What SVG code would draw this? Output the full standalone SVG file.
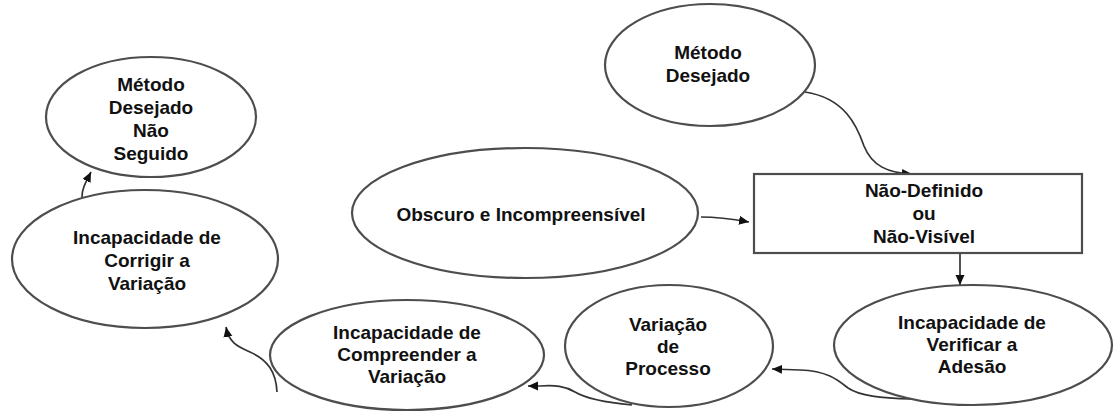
<svg xmlns="http://www.w3.org/2000/svg" width="1114" height="412" viewBox="0 0 1114 412">
<defs>
<style>
.node{fill:#fff;stroke:#4d4d4d;stroke-width:2.2}
.t{font-family:"Liberation Sans",Arial,sans-serif;font-weight:bold;font-size:19px;fill:#111;text-anchor:middle}
.c{fill:none;stroke:#333;stroke-width:1.7}
</style>
<marker id="ah" markerUnits="userSpaceOnUse" markerWidth="12" markerHeight="10" refX="10" refY="4.5" orient="auto">
<path d="M0,0 L10,4.5 L0,9 Z" fill="#111"/>
</marker>
</defs>
<rect width="1114" height="412" fill="#fff"/>
<g id="connectors">
<path class="c" d="M805,92 C845,98 857,126 864,146 C872,166 888,173 912,174" marker-end="url(#ah)"/>
<path class="c" d="M701,217 C720,217 732,219 749,222" marker-end="url(#ah)"/>
<path class="c" d="M960,253 L960,285" marker-end="url(#ah)"/>
<path class="c" d="M912,399 C880,398 860,396 848,388 C838,380 828,371 800,370 L772,369" marker-end="url(#ah)"/>
<path class="c" d="M632,405 C600,402 585,398 575,392 C565,386 555,385 540,386 L528,386" marker-end="url(#ah)"/>
<path class="c" d="M277,392 C276,372 268,360 250,352 C236,346 229,342 226,327" marker-end="url(#ah)"/>
<path class="c" d="M82,197 C82,188 86,182 91,172" marker-end="url(#ah)"/>
</g>
<g id="n-metodo-nao-seguido">
<ellipse class="node" cx="151" cy="117" rx="105" ry="60"/>
<text class="t" x="151" y="91">Método</text>
<text class="t" x="151" y="114">Desejado</text>
<text class="t" x="151" y="137">Não</text>
<text class="t" x="151" y="160">Seguido</text>
</g>
<g id="n-corrigir">
<ellipse class="node" cx="145" cy="259" rx="133" ry="69"/>
<text class="t" x="147" y="244">Incapacidade de</text>
<text class="t" x="147" y="267">Corrigir a</text>
<text class="t" x="147" y="290">Variação</text>
</g>
<g id="n-metodo-desejado">
<ellipse class="node" cx="710" cy="65" rx="105" ry="61"/>
<text class="t" x="708" y="59">Método</text>
<text class="t" x="708" y="82">Desejado</text>
</g>
<g id="n-obscuro">
<ellipse class="node" cx="525" cy="213" rx="173" ry="65"/>
<text class="t" x="521" y="221">Obscuro e Incompreensível</text>
</g>
<g id="n-nao-definido">
<rect class="node" x="754" y="174" width="328" height="79" stroke-width="2.6"/>
<text class="t" x="924" y="197">Não-Definido</text>
<text class="t" x="924" y="220">ou</text>
<text class="t" x="924" y="243">Não-Visível</text>
</g>
<g id="n-verificar">
<ellipse class="node" cx="973" cy="345" rx="139" ry="60"/>
<text class="t" x="972" y="329">Incapacidade de</text>
<text class="t" x="972" y="351">Verificar a</text>
<text class="t" x="972" y="373">Adesão</text>
</g>
<g id="n-variacao">
<ellipse class="node" cx="669" cy="346" rx="104" ry="61"/>
<text class="t" x="668" y="331">Variação</text>
<text class="t" x="668" y="353">de</text>
<text class="t" x="668" y="375">Processo</text>
</g>
<g id="n-compreender">
<ellipse class="node" cx="407" cy="355" rx="137" ry="55"/>
<text class="t" x="407" y="339">Incapacidade de</text>
<text class="t" x="407" y="361">Compreender a</text>
<text class="t" x="407" y="383">Variação</text>
</g>
</svg>
